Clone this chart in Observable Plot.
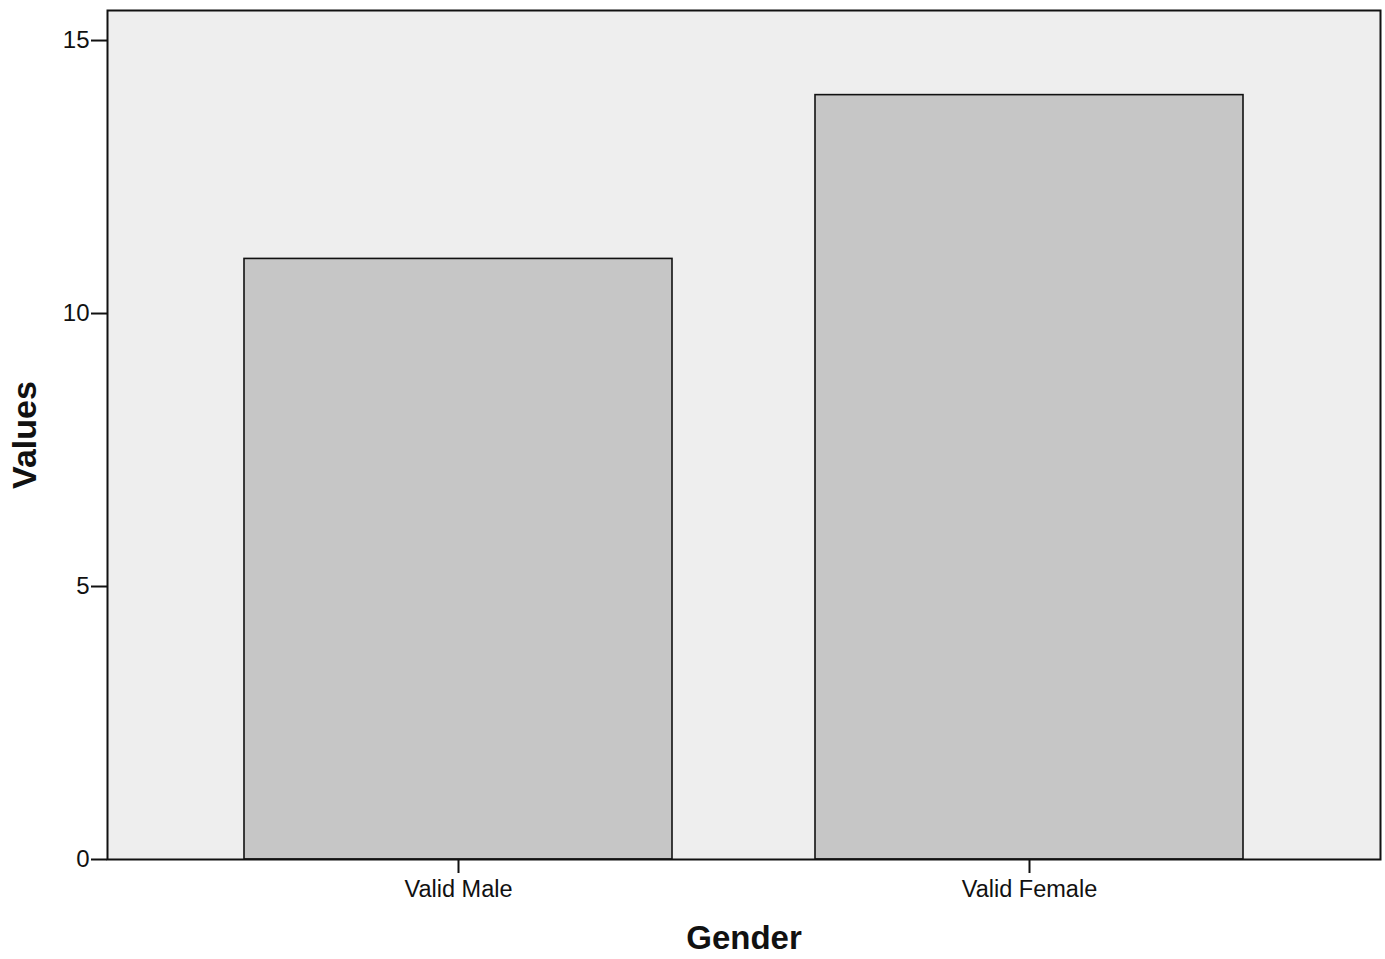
<!DOCTYPE html>
<html>
<head>
<meta charset="utf-8">
<script src="https://cdn.jsdelivr.net/npm/d3@7"></script>
<script src="https://cdn.jsdelivr.net/npm/@observablehq/plot@0.6"></script>
<style>
  html, body { margin: 0; padding: 0; background: #ffffff; }
  #chart svg { display: block; }
</style>
</head>
<body>
<div id="chart"></div>
<script>
const categories = ["Valid Male", "Valid Female"];
const values = [11, 14];
const yTicks = [0, 5, 10, 15];
const xTitle = "Gender";
const yTitle = "Values";

const data = categories.map((c, i) => ({category: c, value: values[i]}));

const chart = Plot.plot({
  width: 1385,
  height: 959,
  marginLeft: 107,
  marginRight: 5,
  marginTop: 10,
  marginBottom: 100,
  style: {fontFamily: "Liberation Sans, Arial, sans-serif", background: "#ffffff", color: "#111"},
  x: {type: "band", domain: categories, paddingInner: 0.25, paddingOuter: 0.239, align: 0.5, label: null},
  y: {domain: [0, 15.55], label: null},
  marks: [
    Plot.frame({fill: "#eeeeee", stroke: null}),
    Plot.barY(data, {x: "category", y: "value", fill: "#c6c6c6", stroke: "#111", strokeWidth: 1.6}),
    Plot.frame({stroke: "#111", strokeWidth: 2}),
    Plot.axisY({ticks: yTicks, tickSize: 16, tickPadding: 2, fontSize: 24, strokeWidth: 2, label: null, tickFormat: d => d}),
    Plot.axisX({tickSize: 14, tickPadding: 7, fontSize: 23.5, strokeWidth: 2, label: null}),
    Plot.text([xTitle], {text: d => d, frameAnchor: "bottom", lineAnchor: "middle", dy: 79, fontSize: 33, fontWeight: "bold", fill: "#111"}),
    Plot.text([yTitle], {text: d => d, frameAnchor: "left", textAnchor: "middle", lineAnchor: "middle", dx: -82, rotate: -90, fontSize: 34, fontWeight: "bold", fill: "#111"})
  ]
});
document.getElementById("chart").appendChild(chart);
</script>
</body>
</html>
